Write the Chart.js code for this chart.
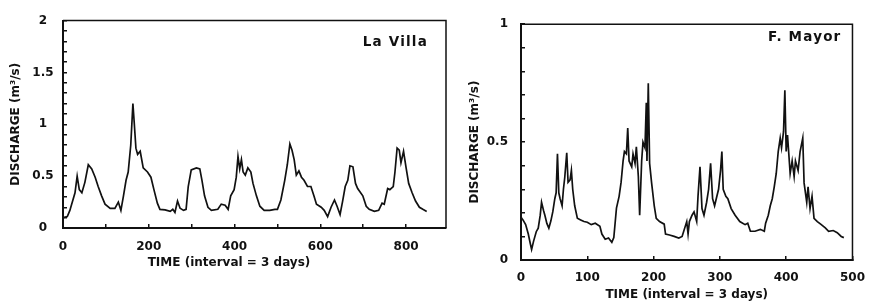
<!DOCTYPE html>
<meta charset="utf-8">
<style>
html, body {
  margin: 0;
  background: #fff;
  overflow: hidden;
}

body {
  position: relative;
  width: 878px;
  height: 303px;
}

canvas {
  position: absolute;
  top: 0;
}

#villa { left: 0; }
#mayor { left: 458px; }
</style>
<body>

<canvas id="villa" width="470" height="303"></canvas>
<canvas id="mayor" width="422" height="303"></canvas>

<script src="https://cdn.jsdelivr.net/npm/chart.js@4/dist/chart.umd.min.js"></script>
<script>
"use strict";

// La Villa (time step, discharge m3/s)
var villaTime = [0, 10, 16, 28, 33, 38, 44, 51, 59, 67, 75, 82, 90, 98, 110, 121, 129, 135, 141, 147,
  152, 158, 163, 166, 170, 174, 180, 187, 197, 205, 212, 220, 226, 238, 250, 256, 261, 267, 273, 281,
  287, 292, 299, 311, 319, 324, 330, 338, 346, 361, 369, 378, 385, 391, 399, 404, 408, 412, 416, 420,
  425, 431, 438, 443, 451, 459, 469, 482, 494, 500, 508, 517, 523, 529, 534, 539, 544, 550, 556, 562,
  570, 578, 585, 591, 602, 609, 617, 625, 633, 639, 646, 652, 658, 664, 669, 676, 682, 687, 699, 707,
  714, 726, 736, 744, 749, 757, 762, 770, 774, 779, 784, 788, 794, 800, 806, 814, 822, 831, 839, 848];
var villaFlow = [0.10, 0.11, 0.17, 0.34, 0.50, 0.37, 0.34, 0.44, 0.61, 0.57, 0.49, 0.40, 0.31, 0.23, 0.19, 0.19, 0.25, 0.17, 0.31, 0.46,
  0.54, 0.80, 1.20, 1.02, 0.77, 0.71, 0.74, 0.58, 0.54, 0.49, 0.37, 0.24, 0.18, 0.175, 0.16, 0.18, 0.15, 0.26, 0.19, 0.17,
  0.18, 0.40, 0.56, 0.58, 0.57, 0.46, 0.31, 0.20, 0.17, 0.18, 0.23, 0.22, 0.18, 0.31, 0.37, 0.49, 0.69, 0.57, 0.66, 0.54,
  0.51, 0.58, 0.54, 0.43, 0.31, 0.21, 0.17, 0.17, 0.18, 0.18, 0.27, 0.46, 0.61, 0.81, 0.75, 0.66, 0.51, 0.55, 0.49, 0.46,
  0.40, 0.40, 0.31, 0.23, 0.20, 0.17, 0.11, 0.20, 0.27, 0.21, 0.13, 0.26, 0.40, 0.46, 0.60, 0.59, 0.43, 0.38, 0.31, 0.21,
  0.18, 0.16, 0.17, 0.24, 0.23, 0.38, 0.37, 0.40, 0.54, 0.77, 0.75, 0.63, 0.74, 0.58, 0.43, 0.34, 0.26, 0.20, 0.18, 0.16];

// F. Mayor
var mayorTime = [0, 1, 3, 7, 11, 14, 16, 19, 23, 26, 29, 31, 34, 36, 39, 42, 45, 48, 51, 53,
  55, 57, 59, 62, 64, 66, 69, 71, 74, 76, 78, 81, 85, 90, 95, 100, 106, 112, 119, 122,
  127, 132, 137, 140, 144, 148, 151, 154, 156, 159, 161, 163, 167, 169, 172, 174, 177, 179, 182, 184,
  187, 189, 190, 192, 194, 197, 201, 204, 209, 216, 218, 224, 231, 238, 243, 250, 252, 254, 258, 261,
  265, 267, 270, 273, 276, 280, 283, 286, 289, 292, 295, 298, 301, 303, 305, 309, 312, 317, 323, 330,
  338, 342, 346, 353, 361, 367, 369, 373, 376, 379, 382, 385, 388, 391, 393, 396, 398, 400, 402, 406,
  409, 412, 414, 418, 421, 425, 427, 431, 433, 436, 439, 442, 447, 452, 459, 464, 471, 477, 483, 487];
var mayorFlow = [0.18, 0.177, 0.17, 0.15, 0.11, 0.07, 0.045, 0.08, 0.12, 0.135, 0.19, 0.245, 0.21, 0.19, 0.155, 0.135, 0.165, 0.205, 0.26, 0.285,
  0.45, 0.285, 0.26, 0.23, 0.30, 0.35, 0.455, 0.33, 0.34, 0.38, 0.30, 0.23, 0.177, 0.17, 0.163, 0.16, 0.15, 0.156, 0.143, 0.11,
  0.088, 0.093, 0.075, 0.095, 0.22, 0.27, 0.33, 0.42, 0.46, 0.45, 0.56, 0.42, 0.395, 0.45, 0.41, 0.48, 0.354, 0.19, 0.42, 0.50,
  0.476, 0.667, 0.42, 0.75, 0.41, 0.327, 0.23, 0.177, 0.163, 0.152, 0.11, 0.106, 0.10, 0.093, 0.10, 0.163, 0.11, 0.163, 0.19, 0.204,
  0.163, 0.27, 0.395, 0.218, 0.19, 0.245, 0.30, 0.41, 0.26, 0.23, 0.265, 0.30, 0.38, 0.46, 0.30, 0.27, 0.26, 0.218, 0.19, 0.163,
  0.15, 0.156, 0.122, 0.122, 0.13, 0.122, 0.156, 0.19, 0.23, 0.26, 0.31, 0.367, 0.46, 0.517, 0.476, 0.544, 0.72, 0.46, 0.53, 0.367,
  0.42, 0.354, 0.42, 0.38, 0.46, 0.517, 0.327, 0.245, 0.31, 0.218, 0.27, 0.177, 0.163, 0.152, 0.136, 0.122, 0.125, 0.116, 0.10, 0.095];

var INK = "#111";
var FAMILY = "'DejaVu Sans', 'Liberation Sans', sans-serif";

Chart.defaults.font.family = FAMILY;
Chart.defaults.font.weight = "bold";
Chart.defaults.color = INK;

// frame round the plot area + the station name in its upper right corner
var panelPlugin = {
  id: "panel",
  afterDraw: function (chart, args, opts) {
    var ctx = chart.ctx, area = chart.chartArea;
    ctx.save();
    ctx.strokeStyle = INK;
    ctx.lineWidth = 1.5;
    ctx.beginPath();
    ctx.moveTo(area.left, area.top);
    ctx.lineTo(area.right, area.top);
    ctx.lineTo(area.right, area.bottom);
    ctx.stroke();

    ctx.font = "bold 13.5px " + FAMILY;
    if ("letterSpacing" in ctx) ctx.letterSpacing = "1.2px";
    ctx.fillStyle = INK;
    ctx.textAlign = "right";
    ctx.textBaseline = "middle";
    ctx.fillText(opts.text, area.right - opts.dx, area.top + opts.dy);
    ctx.restore();
  }
};

function points(xs, ys) {
  return xs.map(function (x, i) { return { x: x, y: ys[i] }; });
}

function tenthLabel(step) {
  return function (v) {
    var r = Math.round(v * 10);
    return r % step === 0 ? String(r / 10) : "";
  };
}

// x axis runs past its last round value, so keep ticks on whole hundreds only
function hundreds(s) {
  var ticks = [];
  for (var v = 0; v <= s.max; v += 100) ticks.push({ value: v });
  s.ticks = ticks;
}

function gridOpts() {
  return { drawOnChartArea: false, drawTicks: true, tickLength: -4, color: INK, lineWidth: 1.5 };
}
function borderOpts() {
  return { display: true, color: INK, width: 2 };
}

var lineDataset = function (xs, ys) {
  return {
    data: points(xs, ys),
    borderColor: INK,
    borderWidth: 1.7,
    pointRadius: 0,
    tension: 0,
    fill: false
  };
};

// left panel
new Chart(document.getElementById("villa"), {
  type: "line",
  data: { datasets: [lineDataset(villaTime, villaFlow)] },
  plugins: [panelPlugin],
  options: {
    responsive: false,
    animation: false,
    events: [],
    layout: { padding: { left: 12, right: 24, top: 12, bottom: 32.6 } },
    plugins: {
      legend: { display: false },
      tooltip: { enabled: false },
      title: {
        display: true,
        position: "bottom",
        text: "TIME (interval = 3 days)",
        color: INK,
        font: { size: 12, weight: "bold", lineHeight: 1.2 },
        padding: { top: 2, bottom: 0 }
      },
      panel: { text: "La Villa", dx: 18, dy: 22 }
    },
    scales: {
      x: {
        type: "linear",
        min: 0,
        max: 893,
        grid: gridOpts(),
        border: borderOpts(),
        afterBuildTicks: hundreds,
        afterFit: function (s) { s.height = 26; },
        ticks: {
          padding: 16,
          maxRotation: 0,
          autoSkip: false,
          font: { size: 12, weight: "bold" },
          callback: function (v) { return v % 200 === 0 ? String(v) : ""; }
        }
      },
      y: {
        min: 0,
        max: 2,
        grid: gridOpts(),
        border: borderOpts(),
        afterFit: function (s) { s.width = 51; },
        title: {
          display: true,
          text: "DISCHARGE (m\u00b3/s)",
          color: INK,
          font: { size: 12, weight: "bold", lineHeight: "8px" },
          padding: 0
        },
        ticks: {
          stepSize: 0.1,
          padding: 13.4,
          crossAlign: "center",
          autoSkip: false,
          font: { size: 12, weight: "bold" },
          callback: tenthLabel(5)
        }
      }
    }
  }
});

// right panel
new Chart(document.getElementById("mayor"), {
  type: "line",
  data: { datasets: [lineDataset(mayorTime, mayorFlow)] },
  plugins: [panelPlugin],
  options: {
    responsive: false,
    animation: false,
    events: [],
    layout: { padding: { left: 0, right: 14, top: 15, bottom: 1 } },
    plugins: {
      legend: { display: false },
      tooltip: { enabled: false },
      panel: { text: "F. Mayor", dx: 11, dy: 13 }
    },
    scales: {
      x: {
        type: "linear",
        min: 0,
        max: 500,
        grid: gridOpts(),
        border: borderOpts(),
        afterBuildTicks: hundreds,
        afterFit: function (s) { s.height = 42; },
        title: {
          display: true,
          text: "TIME (interval = 3 days)",
          color: INK,
          font: { size: 12, weight: "bold", lineHeight: 1.2 },
          padding: 0
        },
        ticks: {
          padding: 15,
          maxRotation: 0,
          autoSkip: false,
          font: { size: 12, weight: "bold" }
        }
      },
      y: {
        min: 0,
        max: 1,
        grid: gridOpts(),
        border: borderOpts(),
        afterFit: function (s) { s.width = 63; },
        title: {
          display: true,
          text: "DISCHARGE (m\u00b3/s)",
          color: INK,
          font: { size: 12, weight: "bold", lineHeight: 1.2 },
          padding: { top: 10, bottom: 0 }
        },
        ticks: {
          stepSize: 0.1,
          padding: 17,
          autoSkip: false,
          font: { size: 12, weight: "bold" },
          callback: tenthLabel(5)
        }
      }
    }
  }
});
</script>
</body>
